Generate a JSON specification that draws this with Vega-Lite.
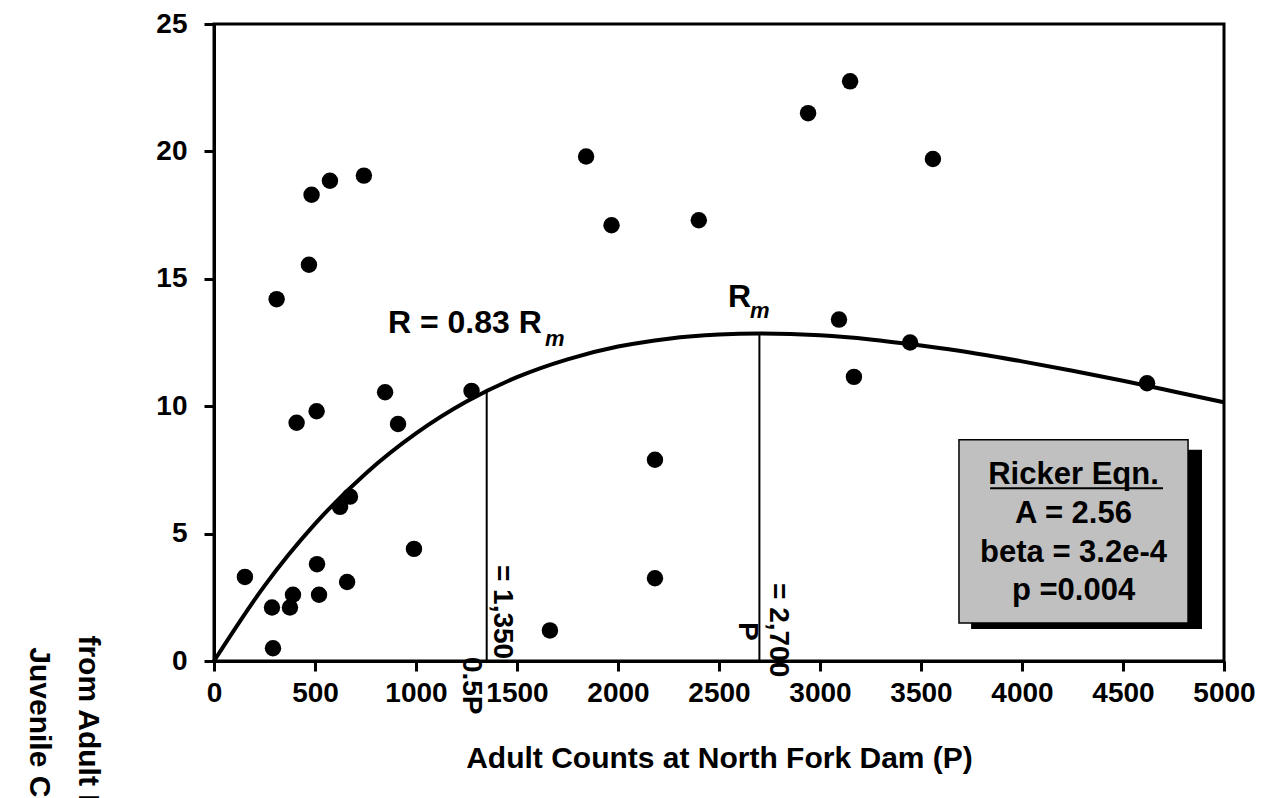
{
  "$schema": "https://vega.github.io/schema/vega-lite/v6.json",
  "width": 1010,
  "height": 637,
  "autosize": {"type": "none"},
  "padding": {"left": 214, "top": 24, "right": 47, "bottom": 137},
  "background": "white",
  "config": {
    "font": "Liberation Sans",
    "view": {"stroke": "black", "strokeWidth": 3},
    "axis": {
      "domainColor": "black", "domainWidth": 3, "tickColor": "black", "tickWidth": 3, "tickSize": 10,
      "labelFont": "Liberation Sans", "labelFontSize": 28, "labelFontWeight": "bold", "labelColor": "black",
      "titleFont": "Liberation Sans", "titleFontSize": 30, "titleFontWeight": "bold", "titleColor": "black",
      "grid": false
    },
    "text": {"font": "Liberation Sans", "fontWeight": "bold", "color": "black"}
  },
  "datasets": {
    "obs": [
      {"P": 153, "R": 3.3}, {"P": 287, "R": 2.1}, {"P": 292, "R": 0.5}, {"P": 376, "R": 2.1},
      {"P": 391, "R": 2.6}, {"P": 510, "R": 3.8}, {"P": 520, "R": 2.6}, {"P": 624, "R": 6.05},
      {"P": 673, "R": 6.45}, {"P": 659, "R": 3.1}, {"P": 990, "R": 4.4},
      {"P": 483, "R": 18.3}, {"P": 574, "R": 18.85}, {"P": 742, "R": 19.05}, {"P": 470, "R": 15.55},
      {"P": 310, "R": 14.2}, {"P": 847, "R": 10.55}, {"P": 508, "R": 9.8}, {"P": 409, "R": 9.35},
      {"P": 911, "R": 9.3},
      {"P": 1842, "R": 19.8}, {"P": 1968, "R": 17.1}, {"P": 2400, "R": 17.3}, {"P": 1275, "R": 10.6},
      {"P": 1663, "R": 1.2}, {"P": 2183, "R": 7.9}, {"P": 2183, "R": 3.25},
      {"P": 2941, "R": 21.5}, {"P": 3149, "R": 22.75}, {"P": 3559, "R": 19.7}, {"P": 3094, "R": 13.4},
      {"P": 3168, "R": 11.15}, {"P": 3446, "R": 12.5}, {"P": 4619, "R": 10.9}
    ],
    "curve": [
      {"P": 0, "R": 0}, {"P": 250, "R": 2.95}, {"P": 500, "R": 5.38}, {"P": 750, "R": 7.35},
      {"P": 1000, "R": 8.93}, {"P": 1250, "R": 10.18}, {"P": 1500, "R": 11.14}, {"P": 1750, "R": 11.84},
      {"P": 2000, "R": 12.34}, {"P": 2250, "R": 12.65}, {"P": 2500, "R": 12.81}, {"P": 2700, "R": 12.85},
      {"P": 3000, "R": 12.78}, {"P": 3250, "R": 12.62}, {"P": 3500, "R": 12.38}, {"P": 3750, "R": 12.1},
      {"P": 4000, "R": 11.76}, {"P": 4250, "R": 11.39}, {"P": 4500, "R": 11.0}, {"P": 4750, "R": 10.58},
      {"P": 5000, "R": 10.15}
    ],
    "refs": [
      {"P": 1350, "R": 10.59}, {"P": 2700, "R": 12.85}
    ],
    "one": [{"k": 1}]
  },
  "layer": [
    {
      "data": {"name": "curve"},
      "mark": {"type": "line", "color": "black", "strokeWidth": 4, "interpolate": "monotone"},
      "encoding": {
        "x": {"field": "P", "type": "quantitative", "scale": {"domain": [0, 5000], "nice": false},
          "axis": {"values": [0, 500, 1000, 1500, 2000, 2500, 3000, 3500, 4000, 4500, 5000], "format": "d", "labelPadding": 8,
            "labelOverlap": false, "labelFlush": false, "title": "Adult Counts at North Fork Dam (P)", "titlePadding": 36}},
        "y": {"field": "R", "type": "quantitative", "scale": {"domain": [0, 25], "nice": false},
          "axis": {"values": [0, 5, 10, 15, 20, 25], "labelPadding": 17,
            "title": ["from Adult Returns", "Juvenile Chinook"], "titleAngle": 90, "titleX": -127, "titleY": 747,
            "titleAlign": "center", "titleBaseline": "middle", "titleLineHeight": 49}}
      }
    },
    {
      "data": {"name": "refs"},
      "mark": {"type": "rule", "color": "black", "strokeWidth": 2},
      "encoding": {
        "x": {"field": "P", "type": "quantitative"},
        "y": {"field": "R", "type": "quantitative"},
        "y2": {"datum": 0}
      }
    },
    {
      "data": {"name": "obs"},
      "mark": {"type": "circle", "color": "black", "opacity": 1, "size": 270},
      "encoding": {
        "x": {"field": "P", "type": "quantitative"},
        "y": {"field": "R", "type": "quantitative"}
      }
    },
    {
      "data": {"name": "one"},
      "mark": {"type": "rect", "color": "black"},
      "encoding": {
        "x": {"datum": 3748, "type": "quantitative"}, "x2": {"datum": 4891},
        "y": {"datum": 1.26, "type": "quantitative"}, "y2": {"datum": 8.29}
      }
    },
    {
      "data": {"name": "one"},
      "mark": {"type": "rect", "fill": "#c0c0c0", "stroke": "black", "strokeWidth": 1.5},
      "encoding": {
        "x": {"datum": 3688, "type": "quantitative"}, "x2": {"datum": 4822},
        "y": {"datum": 1.49, "type": "quantitative"}, "y2": {"datum": 8.68}
      }
    },
    {
      "data": {"name": "one"},
      "mark": {"type": "rule", "color": "black", "strokeWidth": 2},
      "encoding": {
        "x": {"datum": 3842, "type": "quantitative"}, "x2": {"datum": 4698},
        "y": {"datum": 6.78, "type": "quantitative"}
      }
    },
    {
      "data": {"name": "one"},
      "mark": {"type": "text", "fontSize": 31, "align": "center", "baseline": "alphabetic"},
      "encoding": {"x": {"datum": 4255, "type": "quantitative"}, "y": {"datum": 6.93, "type": "quantitative"}, "text": {"value": "Ricker Eqn."}}
    },
    {
      "data": {"name": "one"},
      "mark": {"type": "text", "fontSize": 31, "align": "center", "baseline": "alphabetic"},
      "encoding": {"x": {"datum": 4255, "type": "quantitative"}, "y": {"datum": 5.4, "type": "quantitative"}, "text": {"value": "A = 2.56"}}
    },
    {
      "data": {"name": "one"},
      "mark": {"type": "text", "fontSize": 31, "align": "center", "baseline": "alphabetic"},
      "encoding": {"x": {"datum": 4255, "type": "quantitative"}, "y": {"datum": 3.89, "type": "quantitative"}, "text": {"value": "beta = 3.2e-4"}}
    },
    {
      "data": {"name": "one"},
      "mark": {"type": "text", "fontSize": 31, "align": "center", "baseline": "alphabetic"},
      "encoding": {"x": {"datum": 4255, "type": "quantitative"}, "y": {"datum": 2.38, "type": "quantitative"}, "text": {"value": "p =0.004"}}
    },
    {
      "data": {"name": "one"},
      "mark": {"type": "text", "fontSize": 32, "align": "left", "baseline": "alphabetic"},
      "encoding": {"x": {"datum": 861, "type": "quantitative"}, "y": {"datum": 12.88, "type": "quantitative"}, "text": {"value": "R = 0.83 R"}}
    },
    {
      "data": {"name": "one"},
      "mark": {"type": "text", "fontSize": 22, "fontStyle": "italic", "align": "left", "baseline": "alphabetic"},
      "encoding": {"x": {"datum": 1639, "type": "quantitative"}, "y": {"datum": 12.37, "type": "quantitative"}, "text": {"value": "m"}}
    },
    {
      "data": {"name": "one"},
      "mark": {"type": "text", "fontSize": 32, "align": "left", "baseline": "alphabetic"},
      "encoding": {"x": {"datum": 2545, "type": "quantitative"}, "y": {"datum": 13.9, "type": "quantitative"}, "text": {"value": "R"}}
    },
    {
      "data": {"name": "one"},
      "mark": {"type": "text", "fontSize": 22, "fontStyle": "italic", "align": "left", "baseline": "alphabetic"},
      "encoding": {"x": {"datum": 2653, "type": "quantitative"}, "y": {"datum": 13.47, "type": "quantitative"}, "text": {"value": "m"}}
    },
    {
      "data": {"name": "one"},
      "mark": {"type": "text", "fontSize": 28, "angle": 90, "align": "left", "baseline": "middle"},
      "encoding": {"x": {"datum": 1426, "type": "quantitative"}, "y": {"datum": 3.77, "type": "quantitative"}, "text": {"value": "= 1,350"}}
    },
    {
      "data": {"name": "one"},
      "mark": {"type": "text", "fontSize": 28, "angle": 90, "align": "left", "baseline": "middle"},
      "encoding": {"x": {"datum": 1272, "type": "quantitative"}, "y": {"datum": 0.16, "type": "quantitative"}, "text": {"value": "0.5P"}}
    },
    {
      "data": {"name": "one"},
      "mark": {"type": "text", "fontSize": 28, "angle": 90, "align": "left", "baseline": "middle"},
      "encoding": {"x": {"datum": 2792, "type": "quantitative"}, "y": {"datum": 3.06, "type": "quantitative"}, "text": {"value": "= 2,700"}}
    },
    {
      "data": {"name": "one"},
      "mark": {"type": "text", "fontSize": 28, "angle": 90, "align": "left", "baseline": "middle"},
      "encoding": {"x": {"datum": 2639, "type": "quantitative"}, "y": {"datum": 1.53, "type": "quantitative"}, "text": {"value": "P"}}
    }
  ]
}
